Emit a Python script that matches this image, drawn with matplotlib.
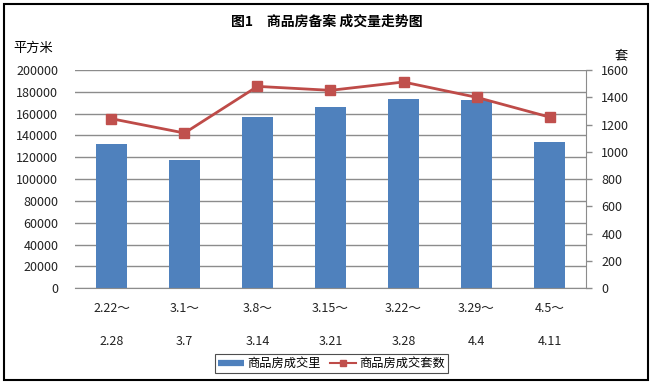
import matplotlib
matplotlib.use('Agg')
import matplotlib.pyplot as plt
from matplotlib.patches import Rectangle
from matplotlib.lines import Line2D

plt.rcParams['font.family'] = ['Noto Sans CJK SC', 'DejaVu Sans']

weeks_start = ['2.22～', '3.1～', '3.8～', '3.15～', '3.22～', '3.29～', '4.5～']
weeks_end = ['2.28', '3.7', '3.14', '3.21', '3.28', '4.4', '4.11']
area = [132000, 118000, 157000, 166000, 173000, 172500, 134000]   # 平方米
units = [1243, 1138, 1480, 1451, 1512, 1400, 1255]                # 套

bar_color = '#4F81BD'
line_color = '#BE4B48'
grid_color = '#8C8C8C'

fig = plt.figure(figsize=(6.52, 3.83), dpi=100)
ax = fig.add_axes([0.115, 0.2473, 0.7838, 0.5699])
ax2 = ax.twinx()

x = list(range(len(area)))
ax.bar(x, area, width=0.42, color=bar_color, zorder=2)
ax2.plot(x, units, color=line_color, lw=2, marker='s', markersize=7,
         markerfacecolor='#C0504D', markeredgecolor='#C0504D', zorder=3)

ax.set_xlim(-0.5, 6.5)
ax.set_ylim(0, 200000)
ax.set_yticks(range(0, 200001, 20000))
ax2.set_ylim(0, 1600)
ax2.set_yticks(range(0, 1601, 200))

ax.yaxis.grid(True, color=grid_color, lw=1)
ax.set_axisbelow(True)

for a in (ax, ax2):
    for s in ('top', 'left'):
        a.spines[s].set_visible(False)
ax.spines['right'].set_visible(False)
ax.spines['bottom'].set_color(grid_color)
ax2.spines['bottom'].set_visible(False)
ax2.spines['right'].set_color(grid_color)

ax.tick_params(axis='y', length=0, pad=12, labelsize=9, colors='#222222')
ax.tick_params(axis='x', length=0, pad=10, labelsize=9, colors='#222222')
ax2.tick_params(axis='y', length=4, width=1, color=grid_color, pad=7,
                labelsize=9, labelcolor='#222222')

ax.set_xticks(x)
ax.set_xticklabels([s + '\n' + e for s, e in zip(weeks_start, weeks_end)],
                   linespacing=3.0)

fig.text(0.502, 0.942, '图1　商品房备案 成交量走势图', ha='center', va='center',
         fontsize=10, fontweight='bold')
fig.text(0.021, 0.873, '平方米', ha='left', va='center', fontsize=9.5)
fig.text(0.942, 0.855, '套', ha='left', va='center', fontsize=9.5)

handles = [Line2D([], [], color=bar_color, lw=4.5, solid_capstyle='butt'),
           Line2D([], [], color=line_color, lw=1.5, marker='s', markersize=5,
                  markerfacecolor='#C0504D', markeredgecolor='#C0504D')]
leg = fig.legend(handles, ['商品房成交里', '商品房成交套数'],
                 loc='center', bbox_to_anchor=(0.5087, 0.0509), ncol=2,
                 fontsize=8.8, frameon=True, fancybox=False, borderpad=0.25,
                 borderaxespad=0, handlelength=2.15, handletextpad=0.25,
                 columnspacing=0.75)
leg.get_frame().set_edgecolor('#222222')
leg.get_frame().set_linewidth(0.8)

fig.patches.append(Rectangle((0.006, 0.008), 0.988, 0.982, transform=fig.transFigure,
                             fill=False, edgecolor='black', lw=1.5))

fig.savefig('out.png', dpi=100)
